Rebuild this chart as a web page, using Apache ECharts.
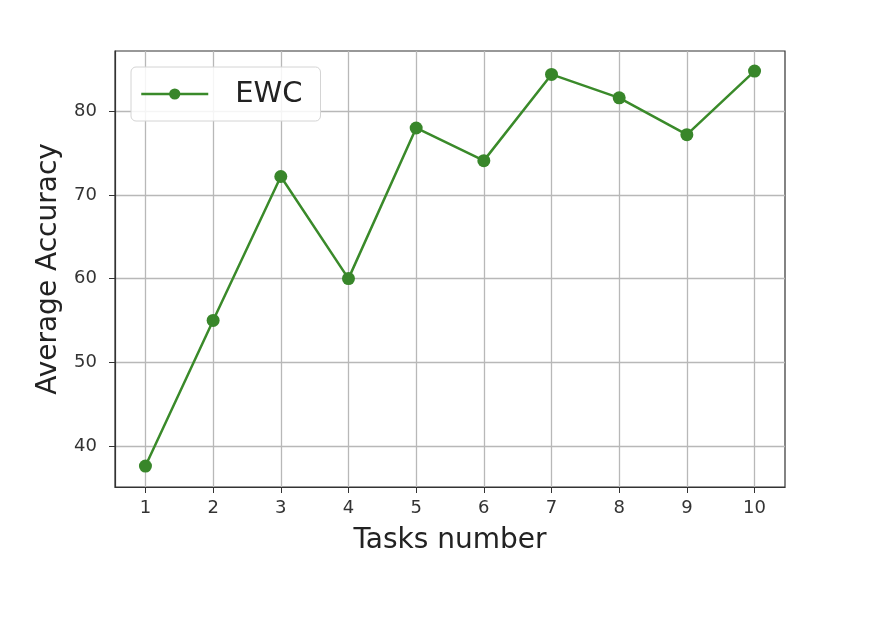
<!DOCTYPE html>
<html>
<head>
<meta charset="utf-8">
<script src="https://cdn.jsdelivr.net/npm/echarts@6/dist/echarts.min.js"></script>
<style>html,body{margin:0;padding:0;background:#fff}#c{width:870px;height:620px}</style>
</head>
<body>
<div id="c"></div>
<script>
const tasks = [1, 2, 3, 4, 5, 6, 7, 8, 9, 10];
const ewc = [37.6, 55.0, 72.2, 60.0, 78.0, 74.1, 84.4, 81.6, 77.2, 84.8];
const xTicks = [1, 2, 3, 4, 5, 6, 7, 8, 9, 10];
const yTicks = [40, 50, 60, 70, 80];

const font = 'DejaVu Sans';
const chart = echarts.init(document.getElementById('c'), null, {renderer: 'canvas'});
chart.setOption({
  backgroundColor: '#fff',
  animation: false,
  grid: {
    left: 115, right: 85, top: 51, bottom: 133,
    show: true, borderColor: '#333', borderWidth: 1.2, backgroundColor: 'transparent'
  },
  legend: {
    left: 131, top: 67,
    padding: [12, 18, 12, 9],
    backgroundColor: 'rgba(255,255,255,0.85)',
    borderColor: '#d4d4d4', borderWidth: 1, borderRadius: 5,
    itemWidth: 67, itemHeight: 14,
    lineStyle: {width: 2.5},
    textStyle: {fontFamily: font, fontSize: 29, color: '#222', padding: [0, 0, 0, 22], lineHeight: 30},
    data: [{name: 'EWC', lineStyle: {width: 2.5}}]
  },
  xAxis: {
    type: 'value', min: 0.55, max: 10.45,
    name: 'Tasks number', nameLocation: 'middle', nameGap: 40,
    nameTextStyle: {fontFamily: font, fontSize: 28, color: '#222'},
    axisLine: {show: true, onZero: false, lineStyle: {color: '#333', width: 1.2}},
    axisTick: {show: true, length: 6, customValues: xTicks, lineStyle: {color: '#333'}},
    axisLabel: {customValues: xTicks, fontFamily: font, fontSize: 18, color: '#333', margin: 12},
    splitLine: {show: true, lineStyle: {color: '#b8b8b8', width: 1.3}}
  },
  yAxis: {
    type: 'value', min: 35.1, max: 87.2,
    name: 'Average Accuracy', nameLocation: 'middle', nameGap: 51, nameRotate: 90,
    nameTextStyle: {fontFamily: font, fontSize: 28, color: '#222'},
    axisLine: {show: true, onZero: false, lineStyle: {color: '#333', width: 1.2}},
    axisTick: {show: true, length: 6, customValues: yTicks, lineStyle: {color: '#333'}},
    axisLabel: {customValues: yTicks, fontFamily: font, fontSize: 18, color: '#333', margin: 18},
    splitLine: {show: true, lineStyle: {color: '#b8b8b8', width: 1.3}}
  },
  series: [{
    name: 'EWC', type: 'line',
    data: tasks.map((t, i) => [t, ewc[i]]),
    symbol: 'circle', symbolSize: 13,
    lineStyle: {color: '#3a8a2a', width: 2.5},
    itemStyle: {color: '#38862a'}
  }]
});
</script>
</body>
</html>
